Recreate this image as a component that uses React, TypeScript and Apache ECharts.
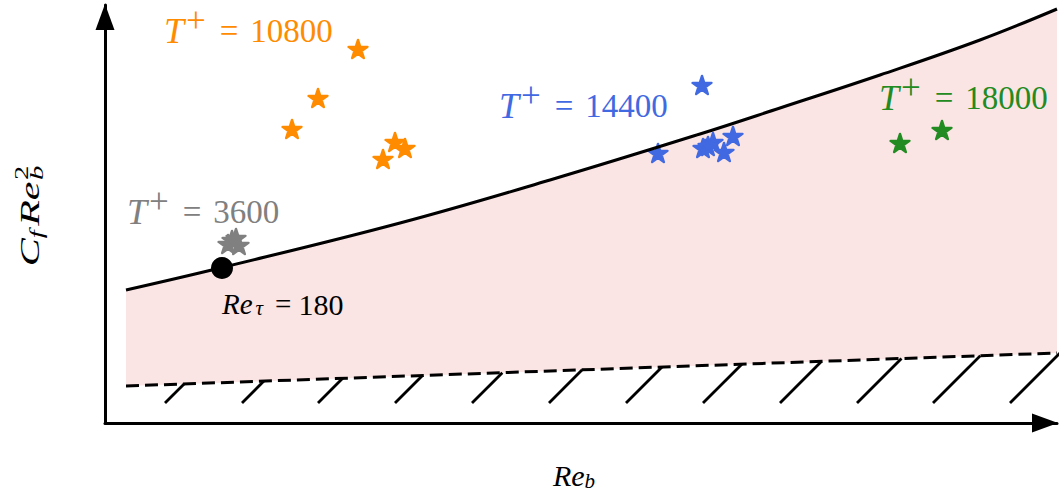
import React, { useEffect, useRef } from "react";
import * as echarts from "echarts";

// Upper bound curve (C_f Re_b^2 vs Re_b)
const curveX = [21, 115, 295, 445, 595, 675, 775, 875, 952];
const curveY = [133, 155, 200, 243, 289, 315, 348, 383, 414];
// Lower (dashed) bound
const floorX = [21, 952];
const floorY = [37, 70];
// Re_tau = 180 reference point
const dotX = [117];
const dotY = [155];
// Star groups
const grayX = [123, 131, 134, 127];
const grayY = [179, 185, 178, 183];
const orangeX = [253, 213, 187, 290, 300, 278];
const orangeY = [374, 325, 294, 281, 275, 264];
const blueX = [597, 553, 598, 608, 603, 619, 628];
const blueY = [338, 270, 275, 281, 277, 271, 287];
const greenX = [795, 837];
const greenY = [280, 293];
// Hatch marks below the dashed bound
const hatchX = [60, 137, 213, 290, 367, 444, 521, 598, 675, 752, 828, 905];
const hatchBase = 20;
// Labels
const tValues = ["3600", "10800", "14400", "18000"];
const tColors = ["#808080", "#ff8c00", "#4169e1", "#228b22"];
const reTauValue = "180";

const FONT = "Liberation Serif";
const STAR =
  "path://M100 0 L122.45 69.1 L195.1 69.1 L136.3 111.8 L158.8 180.9 L100 138.2 L41.2 180.9 L63.7 111.8 L4.9 69.1 L77.55 69.1 Z";

const zip = (xs: number[], ys: number[]) => xs.map((x, i) => [x, ys[i]]);

function starSeries(xs: number[], ys: number[], color: string) {
  return {
    type: "scatter",
    data: zip(xs, ys),
    symbol: STAR,
    symbolSize: 19,
    symbolKeepAspect: true,
    itemStyle: { color, opacity: 1, borderColor: color, borderWidth: 2.4, borderJoin: "round" },
    z: 4,
  };
}

const tok = (size: number, lh: number, color: string, italic: boolean, extra: any = {}) => ({
  fontFamily: FONT,
  fontStyle: italic ? "italic" : "normal",
  fontWeight: "normal",
  fontSize: size,
  lineHeight: lh,
  fill: color,
  color,
  ...extra,
});

function tLabel(value: string, color: string, x: number, y: number) {
  return {
    type: "text",
    x,
    y,
    z: 100,
    style: {
      text: `{t|T}{s|+}{e|=}{n|${value}}`,
      align: "left",
      verticalAlign: "middle",
      fontFamily: FONT,
      fontSize: 33,
      fill: color,
      rich: {
        t: tok(36, 40, color, true, { padding: [0, 2, 0, 0] }),
        s: tok(35, 20, color, false, { padding: [0, 2, 22, 0] }),
        e: tok(33, 40, color, false, { padding: [0, 12, 0, 12] }),
        n: tok(33, 40, color, false),
      },
    },
  };
}

export default function App() {
  const ref = useRef<HTMLDivElement>(null);
  useEffect(() => {
    if (!ref.current) return;
    const chart = echarts.init(ref.current, null, { renderer: "svg" });

    const slope = (floorY[1] - floorY[0]) / (floorX[1] - floorX[0]);
    const hatches = hatchX.map((x0) => {
      const t = (floorY[0] - hatchBase + (x0 - floorX[0]) * slope) / (1 - slope);
      return { coords: [[x0, hatchBase], [x0 + t, hatchBase + t]] };
    });

    const axisCommon = {
      type: "value",
      axisTick: { show: false },
      axisLabel: { show: false },
      splitLine: { show: false },
      z: 10,
    };
    const axisLine = {
      show: true,
      symbol: ["none", "triangle"],
      symbolSize: [19, 26],
      symbolOffset: [0, -12],
      lineStyle: { color: "#000", width: 3 },
    };

    chart.setOption({
      animation: false,
      grid: { left: 105, top: 5, width: 952, height: 418 },
      xAxis: { ...axisCommon, min: 0, max: 952, axisLine },
      yAxis: { ...axisCommon, min: 0, max: 418, axisLine },
      series: [
        {
          type: "line",
          data: zip(curveX, curveY),
          smooth: 0.4,
          showSymbol: false,
          lineStyle: { width: 0 },
          areaStyle: { color: "#fbe4e4", opacity: 1, origin: "start" },
          z: 1,
        },
        {
          type: "line",
          data: zip(floorX, floorY),
          showSymbol: false,
          lineStyle: { color: "#000", width: 3, type: [13, 6] },
          areaStyle: { color: "#ffffff", opacity: 1, origin: "start" },
          z: 2,
        },
        {
          type: "lines",
          coordinateSystem: "cartesian2d",
          data: hatches,
          lineStyle: { color: "#000", width: 2.8, opacity: 1 },
          z: 3,
        },
        starSeries(grayX, grayY, tColors[0]),
        starSeries(orangeX, orangeY, tColors[1]),
        starSeries(blueX, blueY, tColors[2]),
        starSeries(greenX, greenY, tColors[3]),
        {
          type: "line",
          data: zip(curveX, curveY),
          smooth: 0.4,
          showSymbol: false,
          lineStyle: { color: "#000", width: 3 },
          z: 5,
        },
        {
          type: "scatter",
          data: zip(dotX, dotY),
          symbol: "circle",
          symbolSize: 22,
          itemStyle: { color: "#000", opacity: 1 },
          z: 6,
        },
      ],
      graphic: [
        tLabel(tValues[0], tColors[0], 127, 212),
        tLabel(tValues[1], tColors[1], 164, 31),
        tLabel(tValues[2], tColors[2], 499, 106),
        tLabel(tValues[3], tColors[3], 879, 98),
        {
          type: "text",
          x: 222,
          y: 304,
          z: 100,
          style: {
            text: `{i|Re}{sb|τ}{e|=}{n|${reTauValue}}`,
            align: "left",
            verticalAlign: "middle",
            fontFamily: FONT,
            fontSize: 29,
            fill: "#000",
            rich: {
              i: tok(29, 34, "#000", true, { padding: [0, 3, 0, 0] }),
              sb: tok(21, 21, "#000", true, { padding: [8, 0, 0, 0] }),
              e: tok(29, 34, "#000", false, { padding: [0, 7, 0, 12] }),
              n: tok(30, 34, "#000", false),
            },
          },
        },
        {
          type: "text",
          x: 574,
          y: 475,
          z: 100,
          style: {
            text: "{i|Re}{sb|b}",
            align: "center",
            verticalAlign: "middle",
            fontFamily: FONT,
            fontSize: 30,
            fill: "#000",
            rich: {
              i: tok(30, 32, "#000", true),
              sb: tok(21, 20, "#000", true, { padding: [12, 0, 0, 0] }),
            },
          },
        },
        {
          type: "group",
          x: 30,
          y: 216,
          rotation: Math.PI / 2,
          scaleX: 1.5,
          z: 100,
          children: [
            {
              type: "text",
              x: 23,
              y: 0,
              style: {
                text: "{i|C}{sb|f}{sp| }{i|Re}",
                align: "right",
                verticalAlign: "middle",
                fontFamily: FONT,
                fontSize: 28,
                fill: "#000",
                rich: {
                  i: tok(28, 32, "#000", true),
                  sb: tok(19, 19, "#000", true, { padding: [13, 0, 0, 0] }),
                  sp: tok(12, 32, "#000", false),
                },
              },
            },
            {
              type: "text",
              x: 24,
              y: 6.5,
              style: { text: "b", fontFamily: FONT, fontStyle: "italic", fontSize: 19, align: "left", verticalAlign: "middle", fill: "#000" },
            },
            {
              type: "text",
              x: 24,
              y: -9,
              style: { text: "2", fontFamily: FONT, fontStyle: "normal", fontSize: 19, align: "left", verticalAlign: "middle", fill: "#000" },
            },
          ],
        },
      ],
    });
    return () => chart.dispose();
  }, []);
  return (
    <div
      ref={ref}
      style={{ position: "fixed", left: 0, top: 0, width: 1062, height: 493, background: "#fff" }}
    />
  );
}
